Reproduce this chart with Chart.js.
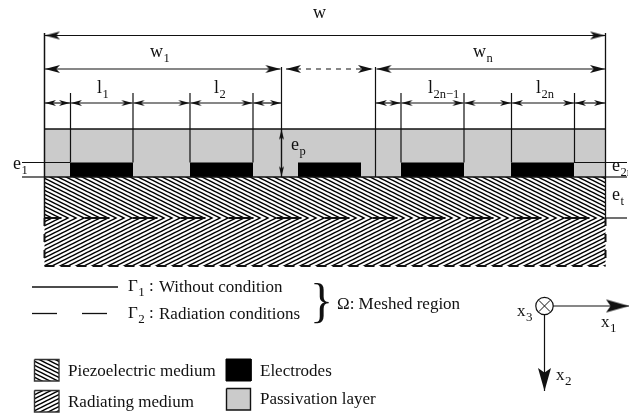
<!DOCTYPE html>
<html>
<head>
<meta charset="utf-8">
<style>
  html, body { margin: 0; padding: 0; background: #fff; }
  canvas { display: block; }
</style>
<script src="https://cdn.jsdelivr.net/npm/chart.js@4/dist/chart.umd.min.js"></script>
</head>
<body>
<canvas id="sketch" width="629" height="413"></canvas>
<script>
// Schematic geometry, in picture units
const leftEdge = 44.5;
const rightEdge = 605.5;
const groupEnd = 281.5;
const groupStart = 375.5;
const fingerEdges = [44.5, 70.5, 133, 190, 253, 281.5, 375.5, 401, 464, 511.5, 574.5, 605.5];
const electrodeStarts = [70, 190, 298, 401, 511];
const electrodeEnds = [133, 253, 361, 464, 574];
const guideEdges = [70.5, 133, 190, 253, 401, 464, 511.5, 574.5];

const widthRow = 35.5;
const groupRow = 69;
const fingerRow = 103;
const guideTop = 93;
const passivationTop = 129;
const electrodeTop = 162.5;
const piezoTop = 177;
const radiatingTop = 218;
const radiatingBottom = 266;

// Text
const dimNames = ['w', 'w', 'w', 'l', 'l', 'l', 'l', 'e', 'e', 'e', 'e'];
const dimSubs = ['', '1', 'n', '1', '2', '2n\u22121', '2n', 'p', '1', '2n', 't'];
const dimX = [313, 150, 473, 97, 214, 428, 536, 291, 13, 612, 612];
const dimY = [18, 57, 57, 93, 93, 93, 93, 150, 169, 171, 200];

const gammaSubs = ['1', '2'];
const gammaNotes = ['Without condition', 'Radiation conditions'];
const gammaY = [292, 319];

const swatchNames = ['Piezoelectric medium', 'Radiating medium', 'Electrodes', 'Passivation layer'];
const swatchTextX = [68, 68, 260, 260];
const swatchTextY = [376, 407, 376, 404];

const axisSubs = ['3', '1', '2'];
const axisX = [517, 601, 556];
const axisY = [316, 327, 380];

const ink = '#111';
const serif = '"Liberation Serif", "Times New Roman", serif';

function hatch(down) {
  const tile = document.createElement('canvas');
  tile.width = 8;
  tile.height = 4;
  const c = tile.getContext('2d');
  c.fillStyle = '#fff';
  c.fillRect(0, 0, 8, 4);
  c.strokeStyle = '#000';
  c.lineWidth = 1.5;
  for (let k = -2; k <= 2; k++) {
    c.beginPath();
    if (down) { c.moveTo(-4, k * 4 - 2); c.lineTo(12, k * 4 + 6); }
    else { c.moveTo(-4, k * 4 + 6); c.lineTo(12, k * 4 - 2); }
    c.stroke();
  }
  return c.createPattern(tile, 'repeat');
}

// Arrowhead sprite: the tip sits on the centre so the point lands on the tip
function head(len, half, notch) {
  const s = document.createElement('canvas');
  s.width = len * 2 + 2;
  s.height = half * 2 + 2;
  const c = s.getContext('2d');
  const mx = s.width / 2, my = s.height / 2;
  c.fillStyle = ink;
  c.beginPath();
  c.moveTo(mx, my);
  c.lineTo(mx - len, my - half);
  c.lineTo(mx - len * notch, my);
  c.lineTo(mx - len, my + half);
  c.closePath();
  c.fill();
  return s;
}

const bigHead = head(15, 4, 0.75);
const smallHead = head(11, 3, 0.72);
const thinHead = head(10, 2.5, 0.8);
const axisHead = head(23, 6.5, 0.8);

function box(x0, x1, y0, y1) {
  return [{ x: x0, y: y0 }, { x: x1, y: y0 }, { x: x1, y: y1 }, { x: x0, y: y1 }, { x: x0, y: y0 }];
}

function area(x0, x1, y0, y1, fill, edge, edgeWidth) {
  return {
    data: box(x0, x1, y0, y1), showLine: true, fill: 'shape', backgroundColor: fill,
    borderColor: edge || 'transparent', borderWidth: edgeWidth || 0,
    pointRadius: 0, tension: 0
  };
}

function stroke(points, width, dash, offset) {
  return {
    data: points, showLine: true, fill: false, borderColor: ink, borderWidth: width || 1.2,
    borderDash: dash || [], borderDashOffset: offset || 0,
    pointRadius: 0, tension: 0, borderCapStyle: 'butt'
  };
}

function seg(x0, y0, x1, y1, width, dash, offset) {
  return stroke([{ x: x0, y: y0 }, { x: x1, y: y1 }], width, dash, offset);
}

function arrow(x0, y0, x1, y1, sprite, dash, oneEnd) {
  const angle = Math.atan2(y1 - y0, x1 - x0) * 180 / Math.PI;
  return {
    data: [{ x: x0, y: y0 }, { x: x1, y: y1 }], showLine: true, fill: false, borderColor: ink, borderWidth: 1.2,
    borderDash: dash || [], tension: 0,
    pointStyle: oneEnd ? [false, sprite] : sprite,
    pointRotation: [angle + 180, angle], pointRadius: 5, pointHoverRadius: 5
  };
}

const piezoHatch = hatch(true);
const radiatingHatch = hatch(false);

// Listed in paint order, reversed below because Chart.js paints the first dataset last
const layers = [];

layers.push(area(leftEdge, rightEdge, passivationTop, piezoTop, '#cbcbcb'));
electrodeStarts.forEach((s, i) => layers.push(area(s, electrodeEnds[i], electrodeTop, piezoTop, '#000')));
layers.push(area(leftEdge, rightEdge, piezoTop, radiatingTop, piezoHatch));
layers.push(area(leftEdge, rightEdge, radiatingTop, radiatingBottom, radiatingHatch));

layers.push(seg(leftEdge, passivationTop, rightEdge, passivationTop, 1.4));
layers.push(seg(leftEdge, piezoTop, rightEdge, piezoTop, 1.4));
layers.push(seg(leftEdge, 33, leftEdge, radiatingTop, 1.5));
layers.push(seg(rightEdge, 33, rightEdge, radiatingTop, 1.3));
layers.push(seg(groupEnd, 67, groupEnd, piezoTop));
layers.push(seg(groupStart, 67, groupStart, piezoTop));
guideEdges.forEach(x => layers.push(seg(x, guideTop, x, electrodeTop)));

// Radiation boundary
layers.push(seg(leftEdge, radiatingTop, rightEdge, radiatingTop, 2, [25, 23], 8));
layers.push(seg(leftEdge, radiatingTop, leftEdge, radiatingBottom, 2, [8, 8]));
layers.push(seg(rightEdge, radiatingTop, rightEdge, radiatingBottom, 2, [8, 8]));
layers.push(seg(leftEdge, radiatingBottom, rightEdge, radiatingBottom, 2, [10, 6]));

// Thickness guides
layers.push(seg(22, electrodeTop, 70, electrodeTop));
layers.push(seg(22, piezoTop, 44, piezoTop));
layers.push(seg(574, electrodeTop, 627, electrodeTop));
layers.push(seg(605, piezoTop, 627, piezoTop));
layers.push(seg(605, radiatingTop, 627, radiatingTop));

// Dimension arrows
layers.push(arrow(leftEdge + 0.5, widthRow, rightEdge - 0.5, widthRow, bigHead));
layers.push(arrow(leftEdge + 0.5, groupRow, groupEnd - 1, groupRow, bigHead));
layers.push(arrow(286, groupRow, 373, groupRow, bigHead, [5, 5]));
layers.push(arrow(groupStart + 1, groupRow, rightEdge - 0.5, groupRow, bigHead));
fingerEdges.slice(0, -1).forEach((x, i) => {
  if (x === groupEnd) return;
  layers.push(arrow(x + 0.5, fingerRow, fingerEdges[i + 1] - 0.5, fingerRow, smallHead));
});
layers.push(arrow(groupEnd, passivationTop + 0.5, groupEnd, piezoTop - 0.5, thinHead));

// Boundary key
layers.push(seg(32, 287, 118, 287, 1.3));
layers.push(seg(32, 313.5, 57, 313.5, 1.3));
layers.push(seg(82, 313.5, 107, 313.5, 1.3));

// Swatches
layers.push(area(34.5, 59, 359.5, 381, piezoHatch, '#333', 1.4));
layers.push(area(34.5, 59, 390.5, 412, radiatingHatch, '#333', 1.4));
layers.push(area(226, 251, 359, 381, '#000', '#000', 1));
layers.push(area(226.5, 250.5, 388.5, 410, '#cbcbcb', '#111', 1.4));

// Coordinate axes
layers.push(arrow(553, 306, 629, 306, axisHead, null, true));
layers.push(arrow(544.5, 315, 544.5, 391, axisHead, null, true));
layers.push({
  data: [{ x: 544.5, y: 306 }], pointStyle: 'circle', pointRadius: 8.7,
  pointBackgroundColor: '#fff', pointBorderColor: ink, pointBorderWidth: 1.2
});
layers.push({
  data: [{ x: 544.5, y: 306 }], pointStyle: 'crossRot', pointRadius: 8,
  pointBorderColor: ink, pointBorderWidth: 1
});

function subscripted(ctx, main, sub, x, y, size, subSize) {
  ctx.font = size + 'px ' + serif;
  ctx.fillText(main, x, y);
  const w = ctx.measureText(main).width;
  ctx.font = subSize + 'px ' + serif;
  ctx.fillText(sub, x + w + 0.5, y + 5);
}

const textLayer = {
  id: 'textLayer',
  afterDraw(chart) {
    const { ctx, scales } = chart;
    const px = v => scales.x.getPixelForValue(v);
    const py = v => scales.y.getPixelForValue(v);
    ctx.save();
    ctx.beginPath();
    ctx.rect(0, 0, 628, 413);
    ctx.clip();
    ctx.fillStyle = ink;
    ctx.textBaseline = 'alphabetic';
    dimNames.forEach((name, i) => subscripted(ctx, name, dimSubs[i], px(dimX[i]), py(dimY[i]), 18, 12.5));
    gammaSubs.forEach((sub, i) => {
      subscripted(ctx, '\u0393', sub, px(128), py(gammaY[i] - 1), 17, 13);
      ctx.font = '17px ' + serif;
      ctx.fillText(':', px(149), py(gammaY[i] - 1));
      ctx.fillText(gammaNotes[i], px(159), py(gammaY[i]));
    });
    swatchNames.forEach((name, i) => {
      ctx.font = '17px ' + serif;
      ctx.fillText(name, px(swatchTextX[i]), py(swatchTextY[i]));
    });
    ctx.font = '17px ' + serif;
    ctx.fillText('\u03a9: Meshed region', px(337), py(309));
    ctx.font = '48px ' + serif;
    ctx.fillText('}', px(310), py(317));
    axisSubs.forEach((sub, i) => subscripted(ctx, 'x', sub, px(axisX[i]), py(axisY[i]), 17, 13));
    ctx.restore();
  }
};

new Chart(document.getElementById('sketch'), {
  type: 'scatter',
  data: { datasets: layers.slice().reverse() },
  options: {
    responsive: false,
    animation: false,
    layout: { padding: 0, autoPadding: false },
    plugins: { legend: { display: false }, tooltip: { enabled: false } },
    scales: {
      x: { type: 'linear', min: 0, max: 629, display: false },
      y: { type: 'linear', min: 0, max: 413, reverse: true, display: false }
    }
  },
  plugins: [textLayer]
});
</script>
</body>
</html>
